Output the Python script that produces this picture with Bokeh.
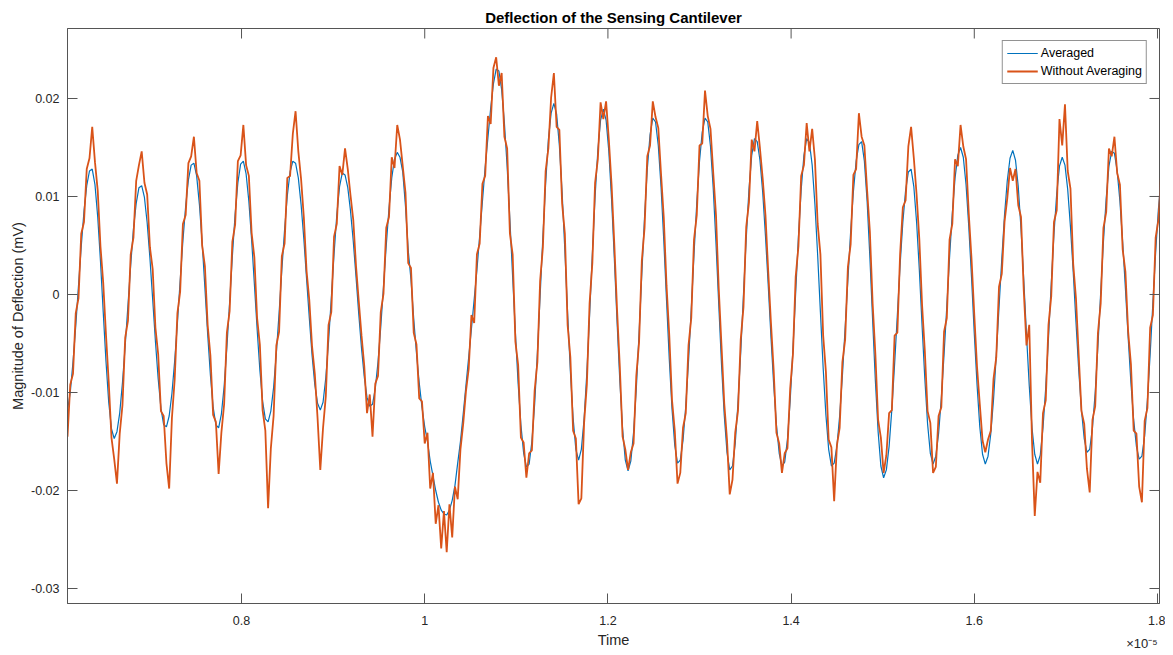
import numpy as np
from bokeh.plotting import figure
from bokeh.models import Range1d, FixedTicker, LinearAxis
from bokeh.embed import file_html
from bokeh.resources import INLINE

FONT = "Liberation Sans"

# sample clock of the scope trace, in units of 1e-5 s (axis shows x10^-5)
t_start = 0.610
t_step = 0.003

# averaged trace, in units of 1e-3
averaged_milli = [
    -11.8, -10.0, -6.9, -3.2, 0.9, 4.9, 8.5, 11.1, 12.6,
    12.8, 11.2, 7.9, 3.4, -1.8, -6.8, -11.0, -13.7,
    -14.7, -14.0, -12.1, -9.0, -5.2, -1.1, 3.0, 6.7, 9.3, 10.9,
    11.1, 9.9, 7.3, 3.7, -0.5, -4.8, -8.6, -11.6, -13.3,
    -13.5, -12.4, -10.1, -6.8, -2.9, 1.4, 5.5, 9.0, 11.7, 13.2,
    13.4, 12.1, 9.2, 5.3, 0.7, -4.0, -8.2, -11.5, -13.3,
    -13.6, -12.2, -9.4, -5.4, -0.8, 3.9, 8.2, 11.4, 13.3,
    13.6, 12.3, 9.5, 5.6, 1.1, -3.5, -7.7, -10.9, -12.7,
    -13.0, -11.9, -9.5, -6.0, -1.9, 2.5, 6.6, 10.1, 12.5, 13.6,
    13.4, 11.9, 9.2, 5.7, 1.6, -2.4, -6.2, -9.2, -11.1,
    -11.8, -11.0, -8.5, -4.8, -0.4, 4.1, 8.1, 11.0, 12.4,
    12.2, 10.9, 8.5, 5.4, 1.8, -2.0, -5.5, -8.4, -10.5, -11.4,
    -11.2, -9.6, -6.9, -3.3, 0.8, 5.0, 8.8, 11.9, 13.8, 14.5,
    14.0, 12.5, 9.0, 4.5, 1.5, -2.5, -6.0, -9.0, -11.5, -13.5,
    -15.0, -17.0, -18.5, -20.0, -21.2, -22.0, -22.4, -22.5, -22.0, -21.0,
    -19.5, -17.2, -15.0, -12.2, -9.3, -6.4, -3.5, -0.5, 2.5, 6.0,
    9.5, 13.0, 16.0, 19.0, 21.5, 23.0,
    22.8, 20.9, 17.5, 13.0, 7.6, 1.8, -3.9, -9.1, -13.3, -16.2, -17.6,
    -17.3, -15.0, -11.2, -6.0, -0.1, 5.9, 11.3, 15.8, 18.5,
    19.5, 18.4, 15.2, 10.4, 4.5, -1.9, -7.8, -12.6, -15.8, -16.9,
    -15.8, -12.7, -8.0, -2.1, 4.1, 10.0, 14.7, 17.8, 18.9,
    17.8, 14.6, 9.7, 3.7, -2.8, -8.8, -13.7, -16.9, -18.0,
    -17.0, -14.1, -9.6, -4.0, 2.1, 7.9, 12.8, 16.3, 18.0,
    17.6, 15.2, 11.0, 5.5, -0.6, -6.6, -11.7, -15.4, -17.2,
    -16.9, -14.9, -11.4, -6.8, -1.5, 4.1, 9.3, 13.6, 16.6, 18.0,
    17.6, 15.1, 10.8, 5.2, -1.0, -7.1, -12.3, -16.1, -17.9,
    -17.5, -15.2, -11.1, -5.9, 0.0, 5.7, 10.7, 14.2, 15.9,
    15.6, 13.7, 10.4, 6.0, 1.0, -4.3, -9.2, -13.3, -16.2, -17.5,
    -17.1, -14.8, -10.8, -5.6, 0.2, 5.9, 10.7, 14.2, 15.9,
    15.5, 13.2, 9.2, 4.0, -1.8, -7.5, -12.3, -15.8, -17.5,
    -17.2, -15.5, -12.4, -8.3, -3.4, 1.5, 6.4, 10.5, 13.6, 15.3,
    15.6, 13.6, 9.5, 3.8, -2.6, -8.8, -14.0, -17.5, -18.7,
    -17.9, -15.5, -11.7, -7.1, -2.1, 3.0, 7.4, 10.6, 12.5,
    12.8, 11.0, 7.4, 2.5, -3.2, -8.6, -13.2, -16.2, -17.3,
    -16.5, -14.2, -10.6, -6.1, -1.2, 3.8, 8.3, 11.9, 14.2, 15.0,
    14.0, 11.2, 6.9, 1.7, -4.0, -9.2, -13.5, -16.3, -17.3,
    -16.5, -14.2, -10.7, -6.2, -1.3, 3.6, 8.1, 11.6, 13.9, 14.7,
    13.7, 11.0, 6.7, 1.5, -4.1, -9.3, -13.6, -16.3, -17.3,
    -16.4, -13.6, -9.5, -4.4, 1.1, 6.2, 10.3, 13.1, 14.0,
    13.2, 10.7, 6.9, 2.3, -2.8, -7.7, -11.8, -14.7, -16.1,
    -15.8, -13.6, -10.0, -5.2, 0.2, 5.4, 9.8, 13.1, 14.6,
    14.4, 12.6, 9.5, 5.3, 0.6, -4.4, -9.0, -12.8, -15.5, -16.8,
    -16.5, -14.4, -10.8, -6.1, -0.8, 4.3, 8.7, 11.9,
]

# trace without averaging, in units of 1e-3
raw_milli = [
    -14.5, -9.2, -8.1, -1.9, -0.4, 6.2, 7.4, 12.8, 13.9,
    17.1, 13.5, 10.6, 4.9, 1.2, -4.1, -8.9, -14.6,
    -16.8, -19.3, -14.2, -11.3, -4.4, -2.7, 4.1, 5.8, 11.6, 13.2,
    14.6, 11.4, 10.2, 4.8, 2.6, -3.4, -6.1, -11.9, -12.4,
    -17.2, -19.8, -12.6, -8.7, -1.9, 0.3, 7.2, 8.1, 13.4, 14.1,
    16.1, 12.4, 11.6, 5.0, 2.9, -3.1, -6.2, -12.3, -13.0,
    -18.3, -14.1, -11.2, -3.9, -1.7, 5.4, 7.1, 13.6, 14.2,
    17.3, 13.2, 12.1, 6.3, 3.8, -2.4, -5.1, -11.8, -13.9,
    -21.8, -15.7, -12.4, -5.2, -3.8, 3.9, 5.2, 11.9, 12.1, 16.4,
    18.7, 14.6, 11.8, 7.9, 2.4, -0.6, -5.3, -8.1, -12.6,
    -17.9, -13.6, -10.4, -3.1, -1.8, 5.9, 7.2, 13.1, 12.2,
    14.9, 12.8, 10.1, 7.6, 2.9, -0.7, -4.2, -7.3, -12.1, -10.2,
    -14.5, -9.1, -8.3, -1.8, 0.1, 6.8, 7.9, 14.0, 12.9, 17.3,
    15.8, 13.1, 10.4, 3.2, 2.7, -3.9, -5.1, -10.6, -10.9, -15.2,
    -14.1, -19.8, -18.2, -23.4, -21.5, -25.9, -22.1, -26.3, -21.4, -24.8,
    -19.6, -20.9, -15.8, -13.2, -9.9, -7.6, -2.1, -2.9, 4.1, 5.2,
    11.3, 12.1, 18.2, 17.4, 23.1, 24.2,
    21.3, 22.6, 16.1, 14.9, 6.2, 4.1, -4.8, -7.2, -14.6, -15.1, -18.7,
    -16.2, -15.9, -9.8, -6.9, 1.4, 4.8, 12.6, 14.9, 20.1,
    22.6, 17.1, 16.8, 9.3, 6.2, -3.1, -6.4, -13.9, -14.7, -21.4,
    -20.8, -13.1, -9.2, -0.9, 3.2, 11.4, 13.8, 19.6, 17.9,
    19.7, 15.8, 11.2, 5.1, -1.6, -7.4, -14.5, -15.8, -17.9,
    -16.1, -15.2, -8.3, -4.9, 3.4, 6.8, 14.1, 15.2, 19.7,
    18.1, 17.0, 12.3, 7.8, 0.9, -4.2, -10.8, -13.9, -19.3,
    -18.2, -13.6, -12.1, -5.2, -2.4, 5.6, 8.1, 15.2, 15.4, 20.8,
    18.2, 16.9, 12.4, 8.1, 0.6, -5.2, -11.1, -14.8, -20.4,
    -18.9, -14.1, -11.9, -4.6, -1.3, 6.9, 9.4, 15.8, 14.6,
    17.7, 14.9, 11.8, 8.1, 2.4, -2.9, -7.8, -14.1, -15.2, -18.2,
    -16.2, -15.7, -9.6, -6.1, 1.8, 4.9, 12.1, 13.2, 17.5,
    14.6, 16.9, 13.8, 7.2, 4.1, -4.2, -7.9, -14.8, -15.6,
    -21.1, -15.4, -13.6, -6.9, -4.6, 2.8, 5.1, 12.2, 12.8, 18.5,
    16.1, 15.2, 10.6, 6.4, -0.9, -6.1, -12.8, -14.6, -18.2,
    -16.4, -12.1, -11.8, -4.2, -3.9, 4.1, 8.9, 9.6, 15.1,
    17.1, 13.9, 10.2, 5.6, -1.1, -5.8, -11.9, -13.1, -18.2,
    -17.6, -12.4, -11.5, -3.8, -2.4, 5.6, 7.2, 13.8, 13.1, 17.3,
    15.1, 13.8, 8.2, 3.6, -2.1, -7.4, -11.2, -14.9, -16.1,
    -14.8, -13.9, -8.6, -6.4, 0.8, 2.1, 7.4, 9.8, 12.9, 11.6,
    12.8, 9.1, 7.9, 0.4, -5.2, -3.1, -14.9, -22.6, -18.1,
    -19.2, -12.1, -10.8, -3.1, -0.2, 7.4, 8.6, 17.9, 15.2,
    19.4, 12.6, 10.8, 3.1, -0.4, -6.2, -11.9, -13.2, -17.8,
    -20.2, -12.8, -11.4, -3.9, -0.9, 6.8, 8.4, 14.9, 14.1,
    16.1, 12.4, 11.2, 4.6, 2.3, -3.8, -7.1, -13.9, -14.2, -19.6,
    -21.2, -12.9, -11.6, -3.4, -2.1, 5.8, 7.6, 12.4,
]

x_ticks = [0.8, 1.0, 1.2, 1.4, 1.6, 1.8]
x_tick_labels = ["0.8", "1", "1.2", "1.4", "1.6", "1.8"]
y_ticks = [-0.03, -0.02, -0.01, 0, 0.01, 0.02]
y_tick_labels = ["-0.03", "-0.02", "-0.01", "0", "0.01", "0.02"]
x_lim = (0.610, 1.8022)
y_lim = (-0.03153, 0.02714)
multiplier_at = 1.783
multiplier_text = "\u00d710\u207b\u2075"

t_avg = t_start + t_step * np.arange(len(averaged_milli))
t_raw = t_start + t_step * np.arange(len(raw_milli))
y_avg = np.array(averaged_milli) * 1e-3
y_raw = np.array(raw_milli) * 1e-3

AX = "#555555"
TXT = "#262626"
H = 652

p = figure(width=1165, height=H, output_backend="svg", toolbar_location=None,
           x_range=Range1d(*x_lim), y_range=Range1d(*y_lim),
           min_border_left=67, min_border_right=6, min_border_top=28, min_border_bottom=H - 603,
           title="Deflection of the Sensing Cantilever",
           y_axis_label="Magnitude of Deflection (mV)")
p.background_fill_color = "white"
p.border_fill_color = "white"
p.outline_line_color = AX
p.outline_line_width = 1
p.xgrid.visible = False
p.ygrid.visible = False

p.title.align = "center"
p.title.text_font = FONT
p.title.text_font_size = "15px"
p.title.text_font_style = "bold"
p.title.text_color = "#000000"
p.title.standoff = 5

p.line(t_avg, y_avg, line_color="#0072BD", line_width=1.2, legend_label="Averaged")
p.line(t_raw, y_raw, line_color="#D95319", line_width=1.8, legend_label="Without Averaging")

# inward tick marks on the top and right edges of the box
p.ray(x=x_ticks, y=[y_lim[1]] * len(x_ticks), length=10, length_units="screen",
      angle=-np.pi / 2, line_color=AX, line_width=1)
p.ray(x=[x_lim[1]] * len(y_ticks), y=y_ticks, length=10, length_units="screen",
      angle=np.pi, line_color=AX, line_width=1)


def style_axis(ax, ticks, labels, standoff, label_standoff, tick_font="12.5px"):
    ax.ticker = FixedTicker(ticks=ticks)
    ax.major_tick_in = 10
    ax.major_tick_out = 0
    ax.minor_tick_line_color = None
    ax.axis_line_color = AX
    ax.axis_line_width = 1
    ax.major_tick_line_color = AX
    ax.major_tick_line_width = 1
    ax.major_label_overrides = {t: l for t, l in zip(ticks, labels)}
    ax.major_label_text_font = FONT
    ax.major_label_text_font_size = tick_font
    ax.major_label_text_color = TXT
    ax.major_label_standoff = standoff
    ax.axis_label_text_font = FONT
    ax.axis_label_text_font_size = "14.5px"
    ax.axis_label_text_font_style = "normal"
    ax.axis_label_text_color = TXT
    ax.axis_label_standoff = label_standoff


style_axis(p.xaxis[0], x_ticks, x_tick_labels, 12, 6)
style_axis(p.yaxis[0], y_ticks, y_tick_labels, 8, 2)

# second, line-less bottom axis: carries the x10^-5 multiplier and the "Time" title
ax2 = LinearAxis(axis_label="Time")
style_axis(ax2, [multiplier_at], [multiplier_text], 8, -22, tick_font="13px")
ax2.axis_line_color = None
ax2.major_tick_line_color = None
ax2.major_tick_in = 0
p.add_layout(ax2, "below")

lg = p.legend[0]
lg.location = "top_right"
lg.margin = 12
lg.padding = 4
lg.spacing = 2
lg.label_height = 16
lg.glyph_height = 16
lg.glyph_width = 31
lg.label_standoff = 3
lg.label_text_font = FONT
lg.label_text_font_size = "12.5px"
lg.label_text_color = "#000000"
lg.border_line_color = "#262626"
lg.border_line_width = 1
lg.background_fill_color = "white"
lg.background_fill_alpha = 1.0

open("out.html", "w").write(file_html(p, INLINE))
